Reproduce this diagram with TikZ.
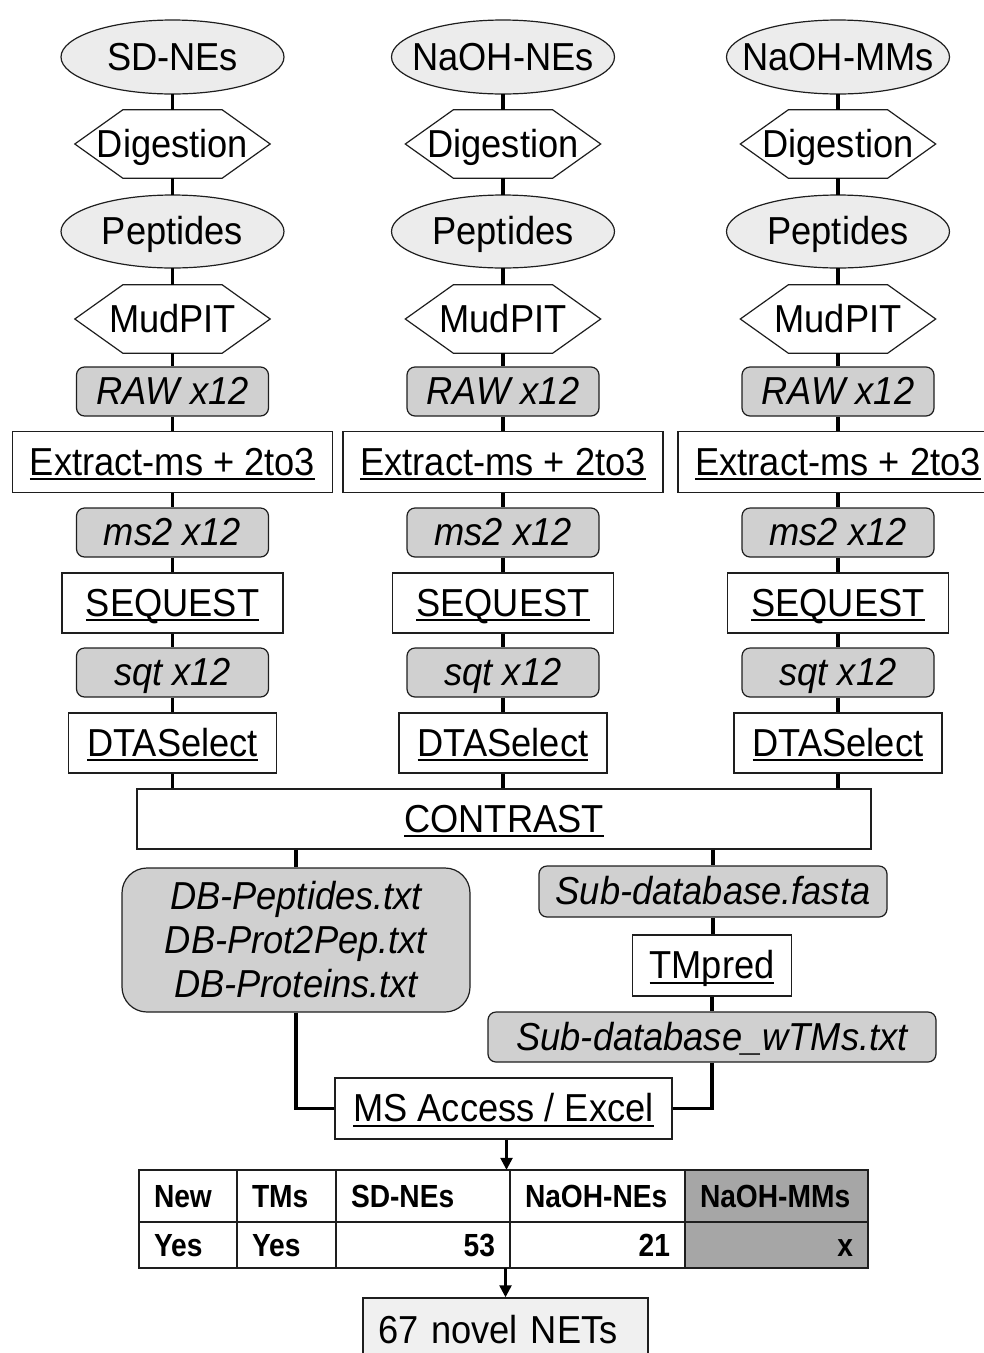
\documentclass[tikz,border=0pt]{standalone}
\usepackage{fontspec}
\setmainfont[FakeStretch=0.93]{Liberation Sans}
\newfontfamily\tabfont[FakeStretch=0.88]{Liberation Sans}
\usetikzlibrary{arrows.meta}
\definecolor{ellfill}{RGB}{236,236,236}
\definecolor{boxgray}{RGB}{208,208,208}
\definecolor{darkcell}{RGB}{166,166,166}
\definecolor{finalfill}{RGB}{240,240,240}
\definecolor{edge}{RGB}{30,30,30}
\newcommand\ulx[1]{\setbox0=\hbox{#1}\rlap{\rule[-5pt]{\wd0}{1.8pt}}\box0}
\begin{document}
\begin{tikzpicture}[x=1pt,y=-1pt,
  every node/.style={font=\fontsize{39}{44}\selectfont, inner sep=0pt},
  oneline/.style={text height=26pt, text depth=0pt},
  ellshape/.style={draw=edge, line width=1.2pt, fill=ellfill},
  ellnode/.style={oneline, minimum width=223pt, minimum height=74pt},
  hexnode/.style={oneline, minimum width=195pt, minimum height=68pt},
  hexline/.style={draw=edge, line width=1.2pt},
  filebox/.style={oneline, draw=edge, line width=1.2pt, fill=boxgray, rounded corners=8pt,
    minimum width=192pt, minimum height=49pt, font=\fontsize{39}{44}\selectfont\itshape},
  progbox/.style={oneline, draw=edge, line width=1.2pt, fill=white, minimum height=60pt},
  link/.style={line width=3.5pt, draw=black},
  arrowline/.style={line width=2.5pt, draw=black, -{Triangle[width=12pt,length=12pt]}},
  cell/.style={draw=edge, line width=2pt, inner xsep=15pt, text height=23pt, text depth=0pt,
    font=\tabfont\bfseries\fontsize{32}{36}\selectfont},
]
\useasboundingbox (0,0) rectangle (984,1353);

\foreach \i/\cx/\lab in {1/172.5/SD-NEs, 2/503/NaOH-NEs, 3/838/NaOH-MMs} {
  \path[ellshape] (\cx,57) ellipse [x radius=111.5pt, y radius=37pt];
  \node[ellnode] (src\i) at (\cx,57) {\lab};
  \node[hexnode] (dig\i) at (\cx,144) {Digestion};
  \path[ellshape] (\cx,231.5) ellipse [x radius=111.5pt, y radius=36.5pt];
  \node[ellnode, minimum height=73pt] (pep\i) at (\cx,231.5) {Peptides};
  \node[hexnode] (mud\i) at (\cx,319) {MudPIT};
  \node[filebox] (raw\i) at (\cx,391.5) {RAW x12};
  \node[progbox, minimum width=320pt, minimum height=61pt] (ext\i) at (\cx,462) {\ulx{Extract-ms + 2to3}};
  \node[filebox] (ms\i) at (\cx,532.5) {ms2 x12};
  \node[progbox, minimum width=221pt] (seq\i) at (\cx,603) {\ulx{SEQUEST}};
  \node[filebox] (sqt\i) at (\cx,672.5) {sqt x12};
  \node[progbox, minimum width=208pt] (dta\i) at (\cx,743) {\ulx{DTASelect}};
  \foreach \n in {dig\i, mud\i}
    \draw[hexline] (\n.west) -- ([xshift=48pt]\n.north west) -- ([xshift=-48pt]\n.north east)
      -- (\n.east) -- ([xshift=-48pt]\n.south east) -- ([xshift=48pt]\n.south west) -- cycle;
  \draw[link] (src\i) -- (dig\i);
  \draw[link] (dig\i) -- (pep\i);
  \draw[link] (pep\i) -- (mud\i);
  \draw[link] (mud\i) -- (raw\i);
  \draw[link] (raw\i) -- (ext\i);
  \draw[link] (ext\i) -- (ms\i);
  \draw[link] (ms\i) -- (seq\i);
  \draw[link] (seq\i) -- (sqt\i);
  \draw[link] (sqt\i) -- (dta\i);
}

\node[progbox, minimum width=734pt] (con) at (504,819) {\ulx{CONTRAST}};
\foreach \i in {1,2,3} \draw[link] (dta\i) -- (dta\i.south |- con.north);

\node[draw=edge, line width=1.2pt, fill=boxgray, rounded corners=25pt,
  minimum width=348pt, minimum height=144pt, align=center,
  font=\fontsize{39}{44}\selectfont\itshape] (db) at (296,940)
  {DB-Peptides.txt\\DB-Prot2Pep.txt\\DB-Proteins.txt};
\node[filebox, minimum width=348pt, minimum height=51pt] (fasta) at (713,891.5) {Sub-database.fasta};
\node[progbox, minimum width=159pt, minimum height=61pt] (tmp) at (712,965.5) {\ulx{TMpred}};
\node[filebox, minimum width=448pt, minimum height=50pt] (wtm) at (712,1037) {Sub-database\_wTMs.txt};
\node[progbox, minimum width=337pt, minimum height=61pt] (msx) at (503.5,1108.5) {\ulx{MS Access / Excel}};

\draw[link] (db.north |- con.south) -- (db.north);
\draw[link] (fasta.north |- con.south) -- (fasta.north);
\draw[link] (fasta) -- (fasta.south |- tmp.north);
\draw[link] (tmp) -- (tmp.south |- wtm.north);
\draw[link] (db.south) |- (msx.west);
\draw[link] (wtm.south) |- (msx.east);

% table
\node[minimum width=729pt, minimum height=98pt] (tab) at (503.5,1219) {};
\node[cell, text width=68pt, align=left, minimum height=52pt] (c11) at (188,1196) {New};
\node[cell, text width=69pt, align=left, minimum height=52pt] (c12) at (286.5,1196) {TMs};
\node[cell, text width=144pt, align=left, minimum height=52pt] (c13) at (423,1196) {SD-NEs};
\node[cell, text width=145pt, align=left, minimum height=52pt] (c14) at (597.5,1196) {NaOH-NEs};
\node[cell, fill=darkcell, text width=153pt, align=left, minimum height=52pt] (c15) at (776.5,1196) {NaOH-MMs};
\node[cell, text width=68pt, align=left, minimum height=46pt] (c21) at (188,1245) {Yes};
\node[cell, text width=69pt, align=left, minimum height=46pt] (c22) at (286.5,1245) {Yes};
\node[cell, text width=144pt, align=right, minimum height=46pt] (c23) at (423,1245) {53};
\node[cell, text width=145pt, align=right, minimum height=46pt] (c24) at (597.5,1245) {21};
\node[cell, fill=darkcell, text width=153pt, align=right, minimum height=46pt] (c25) at (776.5,1245) {x};

\node[oneline, draw=edge, line width=1.5pt, fill=finalfill, text width=255pt, inner xsep=15pt,
  minimum height=64pt, align=left] (final) at (505.5,1330) {67 novel NETs};

\draw[arrowline] ([xshift=3pt]msx.south) -- ([xshift=3pt]msx.south |- tab.north);
\draw[arrowline] (tab.south -| final.north) -- (final.north);
\end{tikzpicture}
\end{document}
